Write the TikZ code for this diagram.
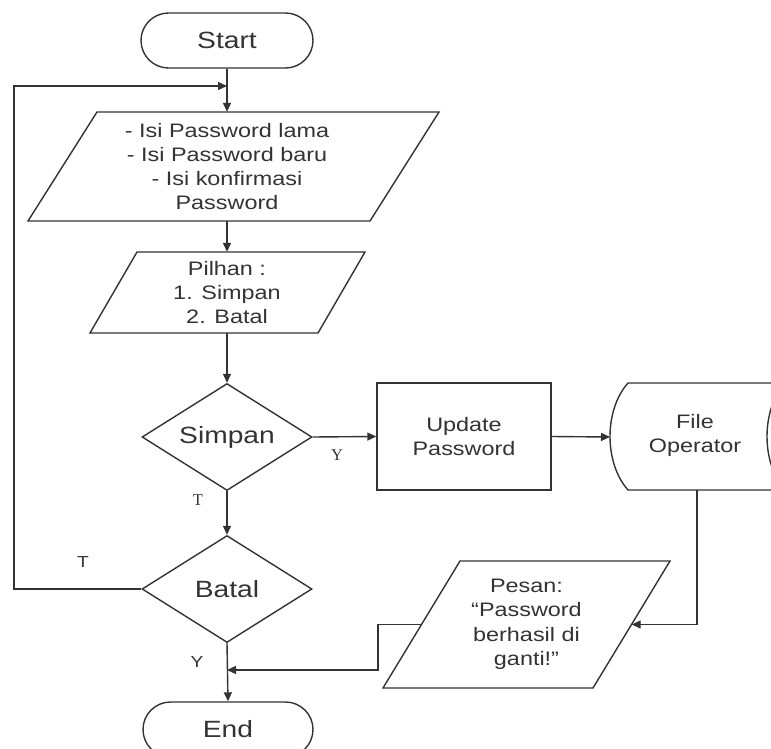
\documentclass[tikz,border=0pt]{standalone}
\usepackage{fontspec}
\setmainfont{Liberation Sans}[FakeStretch=1.2]
\newfontfamily\lblserif{Liberation Serif}
\usetikzlibrary{arrows.meta,shapes.geometric,shapes.misc}

\begin{document}
\begin{tikzpicture}[x=1pt,y=-1pt,
  ink/.style={draw=black!80, line width=1.4pt},
  arr/.style={ink, -{Triangle[length=9pt,width=8pt]}},
  big/.style={font=\fontsize{23.5}{28}\selectfont, text=black!80},
  small/.style={font=\fontsize{19.5}{24}\selectfont, text=black!80, align=center},
  term/.style={ink, rounded rectangle, minimum width=172pt, minimum height=55pt, inner sep=0pt, big},
  decision/.style={ink, diamond, aspect=1.59, minimum width=170pt, minimum height=107pt, inner sep=0pt, big},
  process/.style={ink, rectangle, minimum width=174pt, minimum height=107pt, inner sep=0pt, small},
  txt/.style={small, inner sep=0pt},
  lbl/.style={font=\fontsize{16}{18}\selectfont, text=black!80, inner sep=0pt},
  slbl/.style={font=\lblserif\fontsize{16.5}{18}\selectfont, text=black!80, inner sep=0pt}
]
\fill[white] (0,0) rectangle (771,749);
\useasboundingbox (0,0) rectangle (771,749);
\clip (0,0) rectangle (771,749);

% terminators
\node[term] (start) at (227,40.5) {Start};
\node[term, minimum width=170pt] (end) at (228,729.5) {End};

% input: old / new / confirmed password
\draw[ink] (97,112) -- (439,112) -- (370,221) -- (28,221) -- cycle;
\node[txt, minimum height=109pt] (p1) at (227,166.5)
  {- Isi Password lama\\- Isi Password baru\\- Isi konfirmasi\\Password};

% choice input
\draw[ink] (137,252) -- (365,252) -- (318,333) -- (90,333) -- cycle;
\node[txt, minimum height=81pt] (p2) at (227,292.5) {Pilhan :\\1. Simpan\\2. Batal};

% decisions
\node[decision] (simpan) at (227,437) {Simpan};
\node[decision] (batal) at (227,589) {Batal};

% update process
\node[process] (upd) at (464,436.5) {Update\\Password};

% stored data: operator file
\draw[ink] (628,383) -- (785,383) .. controls (761,410) and (761,463) .. (785,490)
  -- (628,490) .. controls (604,463) and (604,410) .. cycle;
\node[txt] (fo) at (695,435) {File\\Operator};
\coordinate (fow) at (610,437);
\coordinate (fos) at (697,490);

% output message
\draw[ink] (460,561) -- (670,561) -- (593,688) -- (383,688) -- cycle;
\node[txt, minimum width=210pt, minimum height=127pt, font=\fontsize{19.5}{24.5}\selectfont] (pesan) at (526.5,624.5)
  {Pesan:\\“Password\\berhasil di\\ganti!"};

% connectors
\coordinate (loopc) at (14,589);
\coordinate (loopin) at (227,86);
\coordinate (pj) at (378,624.5);
\coordinate (merge) at (227,670);

\draw[arr] (start.south) -- (p1.north);
\draw[arr] (p1.south) -- (p2.north);
\draw[arr] (p2.south) -- (simpan.north);
\draw[arr] (simpan.east) -- (upd.west);
\draw[arr] (upd.east) -- (fow);
\draw[arr] (simpan.south) -- (batal.north);
\draw[arr] (batal.south) -- (end.north);
\draw[arr] (batal.west) -- (loopc) |- (loopin);
\draw[arr] (fos) |- (pesan.east);
\draw[arr] (pesan.west) -- (pj) |- (merge);

% branch labels
\node[slbl] (ysimpan) at (337,455) {Y};
\node[slbl] (tsimpan) at (198,500) {T};
\node[lbl] (tbatal) at (83,562) {T};
\node[lbl] (ybatal) at (197,662) {Y};
\end{tikzpicture}
\end{document}
